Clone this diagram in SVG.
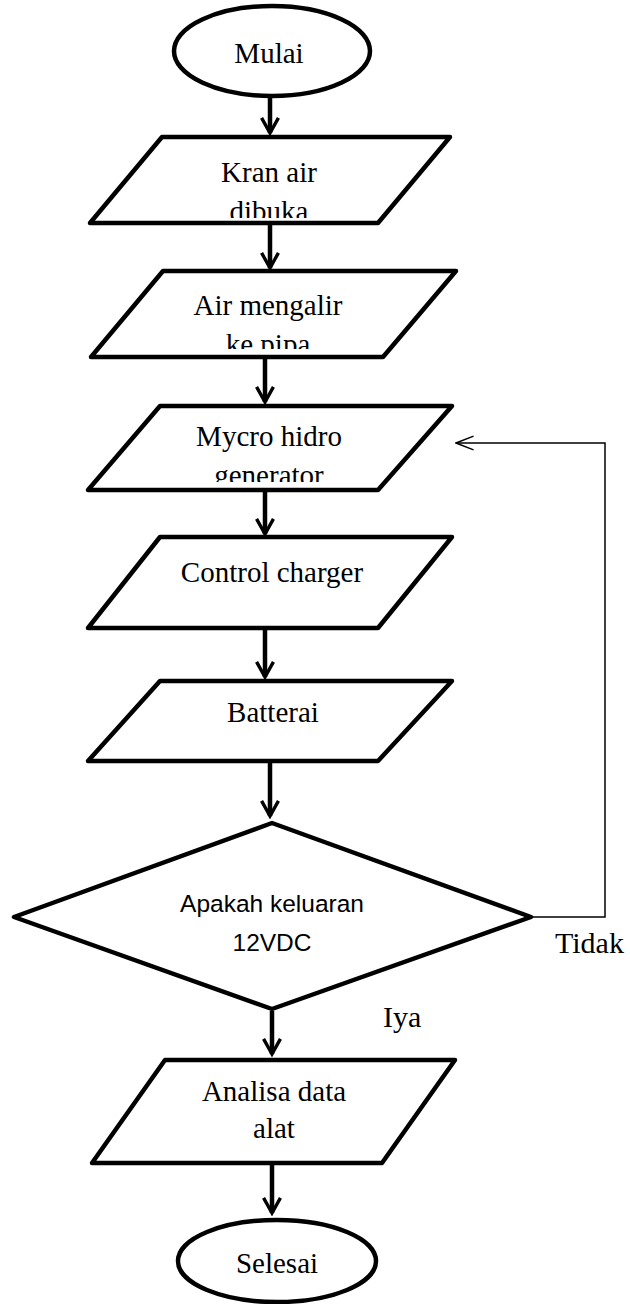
<svg xmlns="http://www.w3.org/2000/svg" width="630" height="1304" viewBox="0 0 630 1304">
<style>
.shape{fill:#fff;stroke:#000;stroke-width:4.5;stroke-linejoin:round}
.t{font-family:"Liberation Serif","Times New Roman",serif;font-size:29px;fill:#000;text-anchor:middle}
.s{font-family:"Liberation Sans",Arial,sans-serif;font-size:24.5px;fill:#000;text-anchor:middle}
.flow{fill:none;stroke:#000;stroke-width:4.5}
.thin{fill:none;stroke:#000;stroke-width:1.5}
</style>
<defs>
<marker id="ah" viewBox="0 0 12 12" refX="10" refY="6" markerWidth="4.5" markerHeight="4.5" markerUnits="strokeWidth" orient="auto">
<path d="M1,1 L10,6 L1,11" fill="none" stroke="#000" stroke-width="2" stroke-linejoin="miter"/>
</marker>
<marker id="ah2" viewBox="0 0 20 20" refX="19" refY="10" markerWidth="13" markerHeight="13" markerUnits="strokeWidth" orient="auto">
<path d="M1,3 L19,10 L1,17" fill="none" stroke="#000" stroke-width="1.5"/>
</marker>
<clipPath id="c1"><rect x="0" y="140" width="630" height="78"/></clipPath>
<clipPath id="c2"><rect x="0" y="275" width="630" height="74"/></clipPath>
<clipPath id="c3"><rect x="0" y="408" width="630" height="74"/></clipPath>
</defs>

<g id="connectors">
<line class="flow" x1="270" y1="98" x2="270" y2="133" marker-end="url(#ah)"/>
<line class="flow" x1="270" y1="225" x2="270" y2="268" marker-end="url(#ah)"/>
<line class="flow" x1="265" y1="359" x2="265" y2="402" marker-end="url(#ah)"/>
<line class="flow" x1="265" y1="492" x2="265" y2="534" marker-end="url(#ah)"/>
<line class="flow" x1="265" y1="630" x2="265" y2="677" marker-end="url(#ah)"/>
<line class="flow" x1="270" y1="763" x2="270" y2="816" marker-end="url(#ah)"/>
<line class="flow" x1="272" y1="1011" x2="272" y2="1054" marker-end="url(#ah)"/>
<line class="flow" x1="272" y1="1165" x2="272" y2="1213" marker-end="url(#ah)"/>
<polyline class="thin" points="530,917 605,917 605,443 456,443" marker-end="url(#ah2)"/>
</g>

<g id="mulai">
<ellipse class="shape" cx="272" cy="51" rx="98" ry="45"/>
<text class="t" x="269" y="63">Mulai</text>
</g>

<g id="kran">
<polygon class="shape" points="162,137 450,137 378,223 90,223"/>
<text class="t" x="269" y="182">Kran air</text>
<text class="t" x="269" y="221" clip-path="url(#c1)">dibuka</text>
</g>

<g id="air">
<polygon class="shape" points="163,271 456,271 383,357 91,357"/>
<text class="t" x="268" y="315">Air mengalir</text>
<text class="t" x="268" y="354" clip-path="url(#c2)">ke pipa</text>
</g>

<g id="mycro">
<polygon class="shape" points="160,406 452,406 378,490 88,490"/>
<text class="t" x="269" y="446">Mycro hidro</text>
<text class="t" x="269" y="485" clip-path="url(#c3)">generator</text>
</g>

<g id="control">
<polygon class="shape" points="160,537 452,537 378,628 88,628"/>
<text class="t" x="272" y="582">Control charger</text>
</g>

<g id="batterai">
<polygon class="shape" points="160,681 452,681 378,761 88,761"/>
<text class="t" x="273" y="722">Batterai</text>
</g>

<g id="decision">
<polygon class="shape" points="272,823 531,917 272,1009 14,917"/>
<text class="s" x="272" y="912">Apakah keluaran</text>
<text class="s" x="272" y="951">12VDC</text>
</g>

<g id="labels">
<text class="t" x="555" y="953" style="text-anchor:start;font-size:30px">Tidak</text>
<text class="t" x="383" y="1027" style="text-anchor:start;font-size:30px">Iya</text>
</g>

<g id="analisa">
<polygon class="shape" points="165,1060 455,1060 382,1163 92,1163"/>
<text class="t" x="274" y="1101">Analisa data</text>
<text class="t" x="274" y="1138">alat</text>
</g>

<g id="selesai">
<ellipse class="shape" cx="277" cy="1261" rx="99" ry="41"/>
<text class="t" x="277" y="1273">Selesai</text>
</g>
</svg>
